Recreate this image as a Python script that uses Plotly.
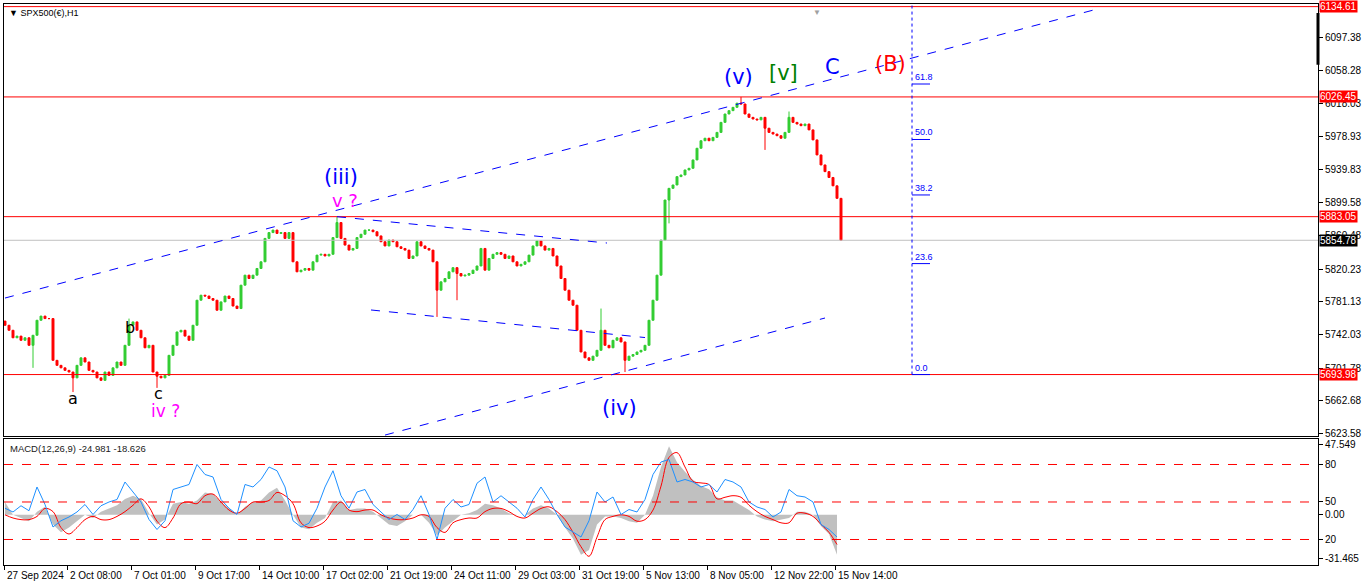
import plotly.graph_objects as go

# ---------------- data ----------------
# closes sampled every 4 hourly bars, starting 27 Sep 2024
closes = [5753, 5747, 5738, 5740, 5735, 5738, 5729, 5741, 5759, 5764,
          5761, 5761, 5711, 5705, 5702, 5699, 5697, 5690, 5705, 5714,
          5709, 5699, 5697, 5690, 5687, 5697, 5693, 5702, 5709, 5705,
          5729, 5753, 5757, 5747, 5738, 5726, 5729, 5697, 5692, 5690,
          5693, 5717, 5729, 5745, 5747, 5740, 5735, 5753, 5783, 5789,
          5788, 5785, 5783, 5771, 5781, 5788, 5785, 5776, 5773, 5801,
          5813, 5809, 5813, 5821, 5829, 5857, 5864, 5867, 5863, 5864,
          5857, 5864, 5829, 5817, 5819, 5821, 5819, 5829, 5837, 5838,
          5836, 5838, 5858, 5876, 5857, 5849, 5843, 5845, 5858, 5862,
          5867, 5867, 5865, 5860, 5853, 5848, 5855, 5853, 5847, 5845,
          5843, 5833, 5836, 5853, 5848, 5845, 5843, 5829, 5795, 5805,
          5809, 5817, 5822, 5815, 5812, 5813, 5815, 5819, 5824, 5845,
          5819, 5833, 5838, 5840, 5838, 5833, 5836, 5829, 5824, 5826,
          5829, 5837, 5848, 5854, 5848, 5843, 5845, 5836, 5824, 5809,
          5795, 5783, 5777, 5747, 5721, 5714, 5711, 5716, 5723, 5747,
          5729, 5726, 5735, 5738, 5733, 5711, 5716, 5718, 5721, 5723,
          5729, 5759, 5783, 5813, 5855, 5903, 5917, 5921, 5931, 5933,
          5939, 5941, 5951, 5965, 5974, 5977, 5974, 5978, 5984, 5996,
          6006, 6010, 6014, 6019, 6018, 6006, 6002, 6000, 5999, 6002,
          5989, 5984, 5982, 5980, 5977, 5984, 6002, 5996, 5994, 5992,
          5994, 5987, 5975, 5957, 5945, 5937, 5930, 5920, 5905, 5854.78]
first_open = 5758
wick_high_idx = [31, 83, 149, 184, 196]
wick_high_val = [5761, 5883, 5773, 6026.5, 6009]
wick_low_idx = [7, 17, 38, 108, 113, 155, 166, 190]
wick_low_val = [5702, 5673, 5678, 5763, 5783, 5697, 5875, 5963]

# MACD panel, sampled every 8 hourly bars
macd_hist = [8, 0, -2, -4, 2, 5, -6, -11, -8, -4,
             0, -2, 2, 4, 6, 10, 12, 10, 1, -6,
             -3, 7, 8, 7, 9, 14, 13, 8, 4, 0,
             5, 8, 9, 14, 17, 9, 0, -8, -9, -5,
             -2, 8, 9, 3, 4, 4, 2, -2, -6, -7,
             -4, 0, 0, -5, -13, -8, -4, 0, 1, 3,
             7, 6, 4, 1, 0, 0, 4, 6, 4, 0,
             -8, -15, -25, -22, -6, -1, -1, -2, -4, -5,
             0, 12, 30, 43, 33, 27, 22, 18, 16, 11,
             9, 9, 6, 3, -1, -3, -4, -3, -2, 2,
             2, 0, -7, -12, -24.981]
macd_signal = [0, -2, -3, -3, -1, 4, 2, -8, -12, -8,
               -3, -1, -3, -3, -1, 2, 6, 10, 5, -4,
               -8, -2, 7, 8, 7, 12, 13, 8, 3, 1,
               4, 8, 8, 9, 14, 12, 7, -5, -8, -7,
               -4, 3, 8, 3, 2, 3, 3, 0, -2, -3,
               -3, -2, 0, -1, -8, -11, -5, -3, -2, -2,
               2, 4, 4, 2, -1, -2, 1, 4, 5, 2,
               -3, -11, -20, -26, -14, -3, -1, 0, -1, -4,
               -3, 3, 18, 36, 39, 30, 21, 20, 19, 10,
               11, 12, 11, 6, 2, -1, -3, -5, -5, 1,
               1, -1, -6, -11, -18.626]
osc_line = [45, 42, 47, 43, 62, 48, 30, 35, 38, 42,
            48, 40, 47, 50, 52, 66, 58, 50, 36, 28,
            35, 60, 62, 64, 80, 72, 70, 52, 45, 40,
            64, 62, 68, 78, 75, 62, 35, 30, 33, 45,
            62, 75, 55, 45, 58, 60, 48, 42, 36, 40,
            36, 44, 55, 40, 20, 45, 52, 46, 48, 65,
            70, 50, 55, 50, 45, 38, 52, 62, 52, 40,
            30, 26, 22, 35, 58, 50, 54, 40, 44, 42,
            52, 72, 82, 84, 66, 68, 66, 62, 64, 58,
            68, 66, 62, 50, 46, 44, 38, 42, 60, 55,
            54, 50, 32, 28, 22]
osc_levels = [80, 50, 20]

time_labels = ["27 Sep 2024", "2 Oct 08:00", "7 Oct 01:00", "9 Oct 17:00",
               "14 Oct 10:00", "17 Oct 02:00", "21 Oct 19:00", "24 Oct 11:00",
               "29 Oct 03:00", "31 Oct 19:00", "5 Nov 13:00", "8 Nov 05:00",
               "12 Nov 22:00", "15 Nov 14:00"]
price_ticks = [6097.38, 6058.28, 6018.03, 5978.93, 5939.83, 5899.58, 5860.48,
               5820.23, 5781.13, 5742.03, 5701.78, 5662.68, 5623.58]
red_levels = [6134.61, 6026.45, 5883.05, 5693.98]
bid_price = 5854.78
fib_p0 = 5693.98
fib_p100 = 6257.0
fib_levels = [0.0, 23.6, 38.2, 50.0, 61.8]

# ---------------- geometry ----------------
PRICE_STEP = 4      # hourly bars per price sample
MACD_STEP = 8       # hourly bars per MACD sample
LABEL_STEP = 64     # hourly bars between time labels
X_RANGE = [0, 1314]
PRICE_RANGE = [5620.35, 6137.75]
MACD_RANGE = [-31.465, 47.549]
OSC_RANGE = [-0.4, 100.4]

xs = [1 + PRICE_STEP * i for i in range(len(closes))]
opens = [first_open] + closes[:-1]
highs = [max(o, c) for o, c in zip(opens, closes)]
lows = [min(o, c) for o, c in zip(opens, closes)]
for k, v in zip(wick_high_idx, wick_high_val):
    highs[k] = max(highs[k], v)
for k, v in zip(wick_low_idx, wick_low_val):
    lows[k] = min(lows[k], v)
mx = [1 + MACD_STEP * j for j in range(len(macd_hist))]

GREEN = "#32CD32"
RED = "#FF0000"
BLUE = "#0000FF"
FONT = "Liberation Sans"
WFONT = "DejaVu Sans"

fig = go.Figure()
fig.add_trace(go.Candlestick(
    x=xs, open=opens, high=highs, low=lows, close=closes,
    increasing=dict(line=dict(color=GREEN, width=1), fillcolor=GREEN),
    decreasing=dict(line=dict(color=RED, width=1), fillcolor=RED),
    whiskerwidth=0, hoverinfo="skip", xaxis="x", yaxis="y", showlegend=False))

fig.add_trace(go.Scatter(x=mx, y=macd_hist, mode="lines", fill="tozeroy",
                         fillcolor="#C0C0C0", line=dict(width=0, color="#C0C0C0"),
                         xaxis="x2", yaxis="y2", hoverinfo="skip", showlegend=False))
fig.add_trace(go.Scatter(x=mx, y=macd_signal, mode="lines",
                         line=dict(width=1, color=RED, shape="spline"),
                         xaxis="x2", yaxis="y2", hoverinfo="skip", showlegend=False))
fig.add_trace(go.Scatter(x=mx, y=osc_line, mode="lines",
                         line=dict(width=1, color="#1E90FF"),
                         xaxis="x2", yaxis="y3", hoverinfo="skip", showlegend=False))

shapes = []
# horizontal price levels
for p in red_levels:
    shapes.append(dict(type="line", xref="x domain", yref="y", x0=0, x1=1, y0=p, y1=p,
                       line=dict(color=RED, width=1)))
shapes.append(dict(type="line", xref="x domain", yref="y", x0=0, x1=1, y0=bid_price,
                   y1=bid_price, line=dict(color="#C0C0C0", width=1)))
# trend lines (bar, price)
trend_lines = [
    ((1, 5785.6), (1096, 6132.6)),
    ((381, 5621.5), (821, 5761.7)),
    ((333, 5883.0), (603, 5851.5)),
    ((367, 5771.3), (641, 5738.3)),
]
for (xa, ya), (xb, yb) in trend_lines:
    shapes.append(dict(type="line", xref="x", yref="y", x0=xa, y0=ya, x1=xb, y1=yb,
                       line=dict(color=BLUE, width=1, dash="dash")))
# fibonacci
FIB_X = 908
shapes.append(dict(type="line", xref="x", yref="y", x0=FIB_X, x1=FIB_X, y0=fib_p0,
                   y1=PRICE_RANGE[1], line=dict(color=BLUE, width=1, dash="dot")))
for lv in fib_levels:
    p = fib_p0 + lv / 100 * (fib_p100 - fib_p0)
    shapes.append(dict(type="line", xref="x", yref="y", x0=FIB_X, x1=FIB_X + 18, y0=p, y1=p,
                       line=dict(color=BLUE, width=1)))
# oscillator levels
for lv in osc_levels:
    shapes.append(dict(type="line", xref="x2 domain", yref="y3", x0=0, x1=1, y0=lv, y1=lv,
                       line=dict(color=RED, width=1, dash="dash")))
# thick marker on price scale
shapes.append(dict(type="line", xref="paper", yref="y", x0=1, x1=1, y0=6127, y1=6065,
                   line=dict(color="black", width=3)))

ann = []
# fib labels
for lv in fib_levels:
    p = fib_p0 + lv / 100 * (fib_p100 - fib_p0)
    ann.append(dict(x=FIB_X + 1, y=p, xref="x", yref="y", text=f"{lv:.1f}", showarrow=False,
                    xanchor="left", yanchor="bottom", font=dict(family=FONT, size=9, color=BLUE)))
# wave labels: (text, bar, price, color, size)
waves = [
    ("(iii)", 337, 5930.5, BLUE, 21),
    ("v ?", 341, 5903.0, "#FF00FF", 18),
    ("a", 69, 5664.7, "black", 16),
    ("b", 126, 5750.3, "black", 16),
    ("c", 154, 5670.7, "black", 16),
    ("iv ?", 161, 5650.3, "#FF00FF", 17),
    ("(iv)", 615, 5654.0, BLUE, 21),
    ("(v)", 734, 6050.3, BLUE, 21),
    ("[v]", 779, 6055.1, "#008000", 21),
    ("C", 828, 6062.3, BLUE, 21),
    ("(B)", 886, 6065.9, RED, 21),
]
for t, bx, py, col, sz in waves:
    ann.append(dict(x=bx, y=py, xref="x", yref="y", text=t, showarrow=False,
                    font=dict(family=WFONT, size=sz, color=col)))
# price scale boxes
for p in red_levels:
    ann.append(dict(x=1, y=p, xref="paper", yref="y", text=f"{p:.2f}", showarrow=False,
                    xanchor="left", xshift=1, bgcolor=RED, borderpad=0,
                    font=dict(family=FONT, size=10, color="white")))
ann.append(dict(x=1, y=bid_price, xref="paper", yref="y", text=f"{bid_price:.2f}",
                showarrow=False, xanchor="left", xshift=1, bgcolor="black", borderpad=0,
                font=dict(family=FONT, size=10, color="white")))
# time labels
for k, lab in enumerate(time_labels):
    bx = max(0, k * LABEL_STEP - 1)
    ann.append(dict(x=bx, y=0, xref="x2", yref="paper", text=lab, showarrow=False,
                    xanchor="left", yanchor="top", xshift=1, yshift=-3,
                    font=dict(family=FONT, size=10, color="black")))
# titles
ann.append(dict(x=0, y=1, xref="paper", yref="paper", text="▼ SPX500(€),H1", showarrow=False,
                xanchor="left", yanchor="top", xshift=3, yshift=-2,
                font=dict(family=FONT, size=9, color="black")))
ann.append(dict(x=0, y=MACD_RANGE[1], xref="x2 domain", yref="y2",
                text="MACD(12,26,9) -24.981 -18.626", showarrow=False,
                xanchor="left", yanchor="top", xshift=4, yshift=-2,
                font=dict(family=FONT, size=9.5, color="#202020")))
ann.append(dict(x=813, y=PRICE_RANGE[1], xref="x", yref="y", text="▼", showarrow=False,
                yanchor="top", font=dict(size=8, color="#A0A0A0")))

tick_bars = [max(0, k * LABEL_STEP - 1) for k in range(len(time_labels))]
axis_common = dict(showgrid=False, zeroline=False, showline=True, linecolor="black",
                   linewidth=1, mirror=True, fixedrange=True)

fig.update_layout(
    width=1366, height=588, autosize=False,
    margin=dict(l=4, r=48, t=4, b=23),
    paper_bgcolor="white", plot_bgcolor="white",
    shapes=shapes, annotations=ann, showlegend=False,
    xaxis=dict(domain=[0, 1], range=X_RANGE, anchor="y", showticklabels=False,
               rangeslider=dict(visible=False), ticks="", **axis_common),
    yaxis=dict(domain=[0.2299, 1], range=PRICE_RANGE, side="right", anchor="x",
               tickvals=price_ticks, ticktext=[f"{v:.2f}" for v in price_ticks],
               ticks="outside", ticklen=4, tickcolor="black",
               tickfont=dict(family=FONT, size=10, color="black"), **axis_common),
    xaxis2=dict(domain=[0, 1], range=X_RANGE, anchor="y2", matches="x",
                tickvals=tick_bars, showticklabels=False, ticks="outside", ticklen=4,
                tickcolor="black", **axis_common),
    yaxis2=dict(domain=[0, 0.2246], range=MACD_RANGE, side="right", anchor="x2",
                tickvals=[44.2, 0, -27.3], ticktext=["47.549", "0.00", "-31.465"],
                ticks="outside", ticklen=4, tickcolor="black",
                tickfont=dict(family=FONT, size=10, color="black"), **axis_common),
    yaxis3=dict(range=OSC_RANGE, overlaying="y2", side="right", anchor="x2",
                tickvals=osc_levels, ticktext=[str(v) for v in osc_levels],
                ticks="outside", ticklen=4, tickcolor="black", showgrid=False,
                zeroline=False, showline=False, fixedrange=True,
                tickfont=dict(family=FONT, size=10, color="black")),
)

fig.write_html("out.html", config={"displayModeBar": False, "staticPlot": True},
               post_script="document.body.style.margin='0';")
